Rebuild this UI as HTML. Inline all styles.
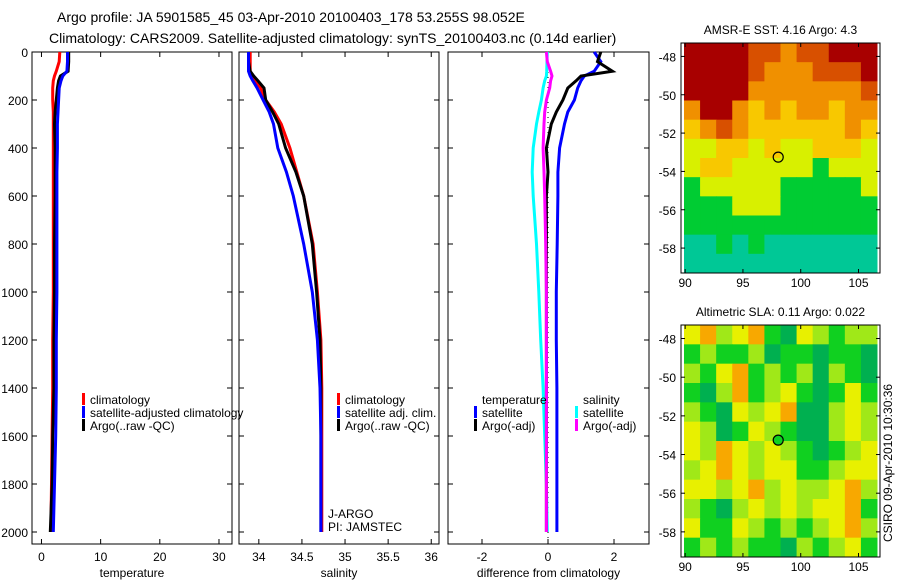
<!DOCTYPE html>
<html><head><meta charset="utf-8"><style>
body{margin:0;background:#fff}
svg{display:block;font-family:"Liberation Sans",sans-serif}
</style></head><body>
<svg id="c" width="900" height="580" viewBox="0 0 900 580">
<text x="57" y="22" font-size="14">Argo profile: JA 5901585_45 03-Apr-2010 20100403_178 53.255S 98.052E</text>
<text x="49" y="43" font-size="14">Climatology: CARS2009. Satellite-adjusted climatology: synTS_20100403.nc (0.14d earlier)</text>
</svg>
<script>
// ---- data ----
const depthTicks=[0,200,400,600,800,1000,1200,1400,1600,1800,2000];
const tempTicks=[0,10,20,30];
const salTicks=[34,34.5,35,35.5,36];
const salTickLabels=["34","34.5","35","35.5","36"];
const diffTicks=[-2,0,2];
const depths=[0,40,80,100,120,150,200,250,300,400,500,600,800,1000,1200,1400,1600,1800,2000];
const tempClim=[3.1,3.0,2.5,2.2,2.0,1.9,1.9,2.0,2.0,2.0,2.0,2.0,2.0,2.0,1.9,1.9,1.8,1.7,1.6];
const tempSat=[4.4,4.4,4.3,3.6,3.3,3.0,2.9,2.8,2.7,2.7,2.6,2.6,2.6,2.6,2.5,2.5,2.4,2.2,2.0];
const tempArgo=[4.6,4.6,4.5,3.2,2.9,2.7,2.5,2.3,2.2,2.3,2.3,2.3,2.2,2.2,2.1,2.1,1.9,1.8,1.5];
const salClim=[33.9,33.9,33.9,33.93,33.96,34.02,34.08,34.18,34.26,34.36,34.44,34.52,34.63,34.68,34.72,34.73,34.73,34.73,34.73];
const salSat=[33.88,33.88,33.88,33.9,33.93,33.98,34.05,34.12,34.17,34.22,34.32,34.40,34.52,34.62,34.68,34.71,34.72,34.72,34.72];
const salArgo=[33.88,33.88,33.9,33.94,33.99,34.06,34.08,34.16,34.23,34.31,34.43,34.52,34.62,34.67,34.71,34.72,34.72,34.72,34.72];
const dTempSat=[1.4,1.6,1.4,1.1,1.0,0.9,0.8,0.6,0.5,0.35,0.3,0.3,0.28,0.25,0.25,0.27,0.27,0.27,0.27];
const dTempArgo=[1.6,1.5,1.95,1.0,0.85,0.6,0.45,0.25,0.1,-0.05,0.0,-0.05,-0.05,-0.05,-0.05,-0.05,-0.05,-0.05,-0.05];
const dSalSat=[-0.02,-0.03,-0.04,-0.05,-0.1,-0.15,-0.2,-0.28,-0.35,-0.45,-0.48,-0.45,-0.35,-0.28,-0.22,-0.15,-0.1,-0.05,-0.02];
const dSalArgo=[-0.05,-0.02,0.08,0.12,0.08,0.05,-0.05,-0.1,-0.12,-0.15,-0.12,-0.1,-0.07,-0.05,-0.05,-0.05,-0.05,-0.05,-0.05];
const lonTicks=[90,95,100,105];
const latTicks=[-48,-50,-52,-54,-56,-58];
const sstGrid=[
[6,6,6,6,5,5,4,5,5,6,6,6],
[6,6,6,6,5,4,4,4,5,5,5,6],
[6,6,6,6,4,4,4,4,4,4,4,5],
[4,6,6,4,3,4,3,4,4,3,4,4],
[3,4,5,4,3,3,3,3,3,3,4,3],
[2,2,3,3,2,3,2,2,3,3,3,2],
[2,3,3,2,2,2,2,2,1,2,2,2],
[1,2,2,2,2,2,1,1,1,1,1,2],
[1,1,1,2,2,2,1,1,1,1,1,1],
[1,1,1,1,1,1,1,1,1,1,1,1],
[0,0,1,0,1,0,0,0,0,0,0,0],
[0,0,0,0,0,0,0,0,0,0,0,0]];
const slaGrid=[
[4,5,3,4,5,2,1,4,3,2,3,3],
[2,3,2,2,3,1,2,2,1,2,2,1],
[3,2,4,5,2,3,2,3,1,3,2,1],
[2,1,3,5,2,3,4,2,1,2,4,2],
[3,2,1,4,3,4,5,1,1,3,4,3],
[4,3,1,2,4,3,2,1,1,3,4,3],
[4,3,5,4,3,4,3,2,1,2,3,4],
[3,4,5,4,3,4,4,2,2,3,4,4],
[4,4,3,4,5,3,4,3,3,4,5,3],
[3,2,1,3,4,3,4,3,4,4,5,2],
[4,2,2,4,3,2,3,2,3,4,5,3],
[2,3,2,3,2,2,1,3,2,3,4,2]];
const sstColors=["#00c896","#00cc33","#d8f000","#f8c800","#f09000","#d85000","#a80000"];
const slaColors=["#00c0a0","#00b050","#10d020","#a0e818","#e8f000","#f8a800"];
// ---- drawing ----
const NS="http://www.w3.org/2000/svg",svg=document.getElementById('c');
function mk(t,a,p){const e=document.createElementNS(NS,t);for(const k in a)e.setAttribute(k,a[k]);(p||svg).appendChild(e);return e;}
function txt(x,y,s,size,anchor,p){const e=mk('text',{x:x,y:y,'font-size':size||12,'text-anchor':anchor||'start'},p);e.textContent=s;return e;}
const yTop=52,yBot=544;
function yD(d){return yTop+d*(yBot-yTop)/2050;}
const panels=[
 {name:'temperature-panel',x0:32,x1:232,lo:-1.6,hi:32.2,ticks:tempTicks,labels:tempTicks.map(String),xlabel:'temperature'},
 {name:'salinity-panel',x0:239,x1:439,lo:33.77,hi:36.09,ticks:salTicks,labels:salTickLabels,xlabel:'salinity'},
 {name:'difference-panel',x0:448,x1:649,lo:-3.03,hi:3.06,ticks:diffTicks,labels:diffTicks.map(String),xlabel:'difference from climatology'}];
panels.forEach((P,i)=>{
 P.sx=v=>P.x0+(v-P.lo)*(P.x1-P.x0)/(P.hi-P.lo);
 const g=mk('g',{});
 
 
 mk('rect',{x:P.x0,y:yTop,width:P.x1-P.x0,height:yBot-yTop,fill:'none',stroke:'#000','stroke-width':1},g);
 depthTicks.forEach(d=>{const y=yD(d);
  mk('line',{x1:P.x0,x2:P.x0+5,y1:y,y2:y,stroke:'#000'},g);
  mk('line',{x1:P.x1,x2:P.x1-5,y1:y,y2:y,stroke:'#000'},g);
  if(i==0){const t=txt(28,y+5,String(d),12,'end',g);}});
 P.ticks.forEach((v,k)=>{const x=P.sx(v);
  mk('line',{x1:x,x2:x,y1:yBot,y2:yBot-5,stroke:'#000'},g);
  mk('line',{x1:x,x2:x,y1:yTop,y2:yTop+5,stroke:'#000'},g);
  const t=txt(x,561,P.labels[k],12,'middle',g);});
 const xl=txt((P.x0+P.x1)/2,577,P.xlabel,12,'middle',g);
 
 
});
function profile(P,vals,color,name,w){
 const pts=vals.map((v,k)=>P.sx(v).toFixed(1)+','+yD(depths[k]).toFixed(1)).join(' ');
 const e=mk('polyline',{points:pts,fill:'none',stroke:color,'stroke-width':w||3});
 
 
}
const [PT,PS,PD]=panels;
profile(PT,tempClim,'#f00','temp-climatology-line');
profile(PT,tempArgo,'#000','temp-argo-line');
profile(PT,tempSat,'#00f','temp-satellite-line');
profile(PS,salClim,'#f00','sal-climatology-line');
profile(PS,salArgo,'#000','sal-argo-line');
profile(PS,salSat,'#00f','sal-satellite-line');
const zl=mk('line',{x1:PD.sx(0),x2:PD.sx(0),y1:yTop,y2:yBot,stroke:'#000','stroke-dasharray':'1,4'});


profile(PD,dSalSat,'#0ff','diff-sal-satellite-line');
profile(PD,dTempSat,'#00f','diff-temp-satellite-line');
profile(PD,dTempArgo,'#000','diff-temp-argo-line');
profile(PD,dSalArgo,'#f0f','diff-sal-argo-line');
function legend(x,y,color,label,name){
 const g=mk('g',{});
 
 
 if(color)mk('rect',{x:x,y:y-11,width:3,height:12,fill:color},g);
 txt(x+8,y,label,12,'start',g);
}
legend(82,404,'#f00','climatology','legend-climatology');
legend(82,417,'#00f','satellite-adjusted climatology','legend-satellite-adjusted');
legend(82,430,'#000','Argo(..raw -QC)','legend-argo');
legend(337,404,'#f00','climatology','legend-sal-climatology');
legend(337,417,'#00f','satellite adj. clim.','legend-sal-satellite');
legend(337,430,'#000','Argo(..raw -QC)','legend-sal-argo');
legend(474,404,null,'temperature','legend-temperature-header');
legend(474,417,'#00f','satellite','legend-diff-temp-satellite');
legend(474,430,'#000','Argo(-adj)','legend-diff-temp-argo');
legend(575,404,null,'salinity','legend-salinity-header');
legend(575,417,'#0ff','satellite','legend-diff-sal-satellite');
legend(575,430,'#f0f','Argo(-adj)','legend-diff-sal-argo');
legend(320,518,null,'J-ARGO','jargo-label');
legend(320,531,null,'PI: JAMSTEC','pi-label');
// maps
function map(name,top,bot,grid,colors,title,circleFill){
 const x0=684,x1=877,lonLo=89.9,lonHi=106.6,latTop=-47.3,latBot=-59.3;
 const g=mk('g',{});
 
 
 const sx=v=>x0+(v-lonLo)*(x1-x0)/(lonHi-lonLo);
 const sy=v=>top+(v-latTop)*(bot-top)/(latBot-latTop);
 const nr=grid.length,nc=grid[0].length,cw=(x1-x0)/nc,ch=(bot-top)/nr;
 grid.forEach((row,r)=>row.forEach((v,c)=>{
  const e=mk('rect',{x:x0+c*cw,y:top+r*ch,width:cw+0.5,height:ch+0.5,fill:colors[v]},g);
  
  
 }));
 mk('rect',{x:x0-3,y:top,width:x1-x0+6,height:bot-top,fill:'none',stroke:'#000'},g);
 lonTicks.forEach(v=>{const x=sx(v);mk('line',{x1:x,x2:x,y1:bot,y2:bot-4,stroke:'#000'},g);mk('line',{x1:x,x2:x,y1:top,y2:top+4,stroke:'#000'},g);txt(x,bot+14,String(v),12,'middle',g);});
 latTicks.forEach(v=>{const y=sy(v);mk('line',{x1:x0-3,x2:x0+1,y1:y,y2:y,stroke:'#000'},g);mk('line',{x1:x1+3,x2:x1-1,y1:y,y2:y,stroke:'#000'},g);txt(x0-8,y+5,String(v),12,'end',g);});
 const t=txt((x0+x1)/2,top-9,title,12,'middle',g);
 
 
 const c=mk('circle',{cx:sx(98.052),cy:sy(-53.255),r:5,fill:circleFill,stroke:'#000','stroke-width':1.2},g);
 
 
}
map('sst-map',43,273,sstGrid,sstColors,'AMSR-E SST: 4.16 Argo: 4.3','none');
map('sla-map',325,557,slaGrid,slaColors,'Altimetric SLA: 0.11 Argo: 0.022','#10d020');
const v=txt(0,0,'CSIRO 09-Apr-2010 10:30:36',12,'middle');
v.setAttribute('transform','translate(892,463) rotate(-90)');


</script>
</body></html>
